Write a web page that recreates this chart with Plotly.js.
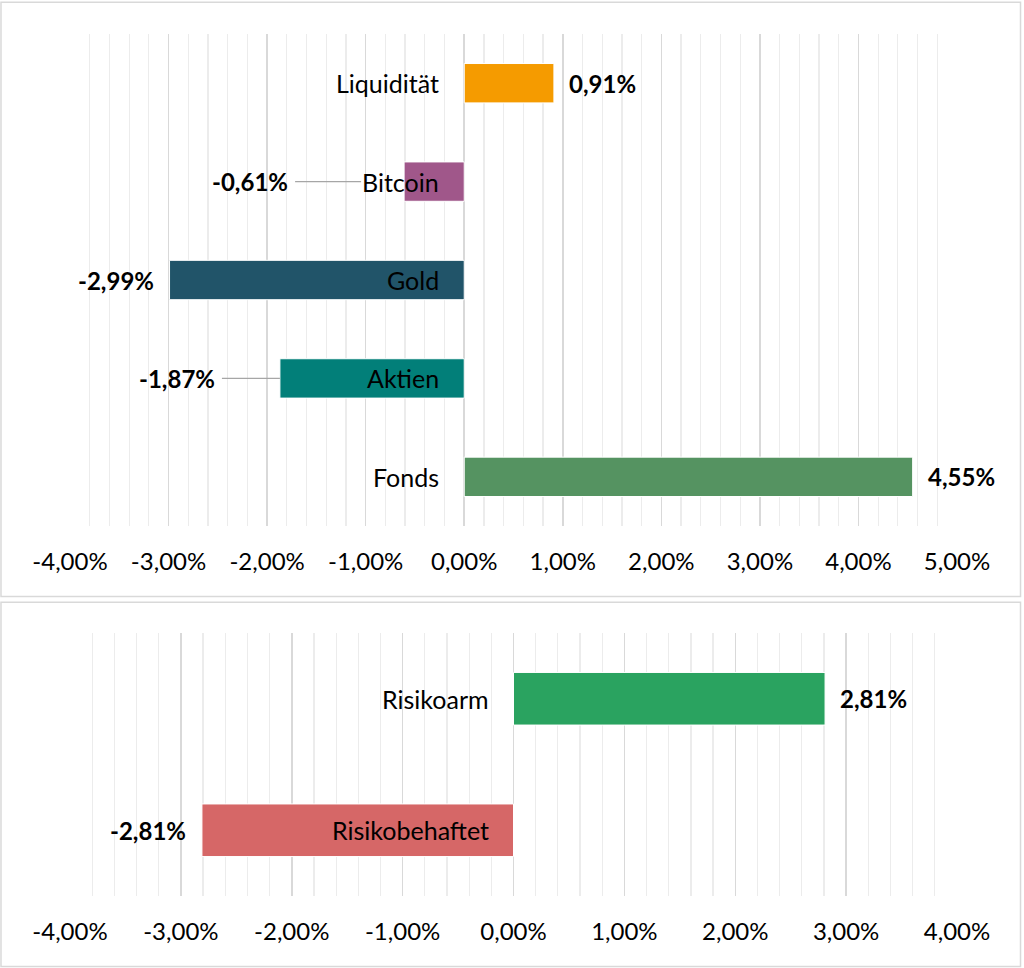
<!DOCTYPE html>
<html>
<head>
<meta charset="utf-8">
<script src="https://cdn.plot.ly/plotly-3.0.1.min.js"></script>
<style>
html,body{margin:0;padding:0;background:#fff;}
#chart{width:1024px;height:968px;}
</style>
</head>
<body>
<div id="chart"></div>
<script>
// ---- data ----
const topCats = ['Liquidität', 'Bitcoin', 'Gold', 'Aktien', 'Fonds'];
const topVals = [0.91, -0.61, -2.99, -1.87, 4.55];
const botCats = ['Risikoarm', 'Risikobehaftet'];
const botVals = [2.81, -2.81];
const topTickVals = [-4, -3, -2, -1, 0, 1, 2, 3, 4, 5];
const topTickText = ['-4,00%', '-3,00%', '-2,00%', '-1,00%', '0,00%', '1,00%', '2,00%', '3,00%', '4,00%', '5,00%'];
const botTickVals = [-4, -3, -2, -1, 0, 1, 2, 3, 4];
const botTickText = ['-4,00%', '-3,00%', '-2,00%', '-1,00%', '0,00%', '1,00%', '2,00%', '3,00%', '4,00%'];

// ---- styles ----
const topColors = ['#F59B00', '#A0578A', '#215469', '#027F79', '#559361'];
const botColors = ['#2AA360', '#D66767'];
const FONT = 'Lato, "Open Sans", sans-serif';
const leader = { 'Bitcoin': { ax: -109, standoff: 43 }, 'Aktien': { ax: -58, standoff: 0 } };

function fmt(v) { return v.toFixed(2).replace('.', ',') + '%'; }

const traces = [
  {
    type: 'bar', orientation: 'h', x: topVals, y: topCats, xaxis: 'x', yaxis: 'y',
    width: 0.4, marker: { color: topColors, line: { color: '#ffffff', width: 1 } },
    hoverinfo: 'skip'
  },
  {
    type: 'bar', orientation: 'h', x: botVals, y: botCats, xaxis: 'x2', yaxis: 'y2',
    width: 0.4, marker: { color: botColors, line: { color: '#ffffff', width: 1 } },
    hoverinfo: 'skip'
  }
];

const annotations = [];
function addLabels(cats, vals, xr, yr) {
  cats.forEach((c, i) => {
    const v = vals[i];
    // category label at the zero line
    annotations.push({
      x: 0, y: c, xref: xr, yref: yr, text: c, showarrow: false,
      xanchor: 'right', xshift: -23,
      font: { family: FONT, size: 25, color: '#000' }
    });
    // value label
    const L = leader[c];
    if (L) {
      annotations.push({
        x: v, y: c, xref: xr, yref: yr, text: '<b>' + fmt(v) + '</b>',
        showarrow: true, ax: L.ax, ay: 0, arrowhead: 0, arrowwidth: 1.2,
        arrowcolor: '#a6a6a6', standoff: L.standoff, xanchor: 'right', borderpad: 6,
        font: { family: FONT, size: 24, color: '#000' }
      });
    } else {
      annotations.push({
        x: v, y: c, xref: xr, yref: yr, text: '<b>' + fmt(v) + '</b>', showarrow: false,
        xanchor: v >= 0 ? 'left' : 'right', xshift: v >= 0 ? 13 : -14,
        font: { family: FONT, size: 24, color: '#000' }
      });
    }
  });
}
addLabels(topCats, topVals, 'x', 'y');
addLabels(botCats, botVals, 'x2', 'y2');

function xaxisDef(range, tv, tt, anchor) {
  return {
    range: range, anchor: anchor, tickvals: tv, ticktext: tt, ticks: '',
    showgrid: true, gridcolor: '#d9d9d9', gridwidth: 1.5, zeroline: false, showline: false,
    minor: { dtick: 0.2, showgrid: true, gridcolor: '#ececec', gridwidth: 1.2, ticks: '' },
    tickfont: { family: FONT, size: 24, color: '#000' }, ticklabelstandoff: 19,
    fixedrange: true
  };
}

const layout = {
  width: 1024, height: 968,
  margin: { l: 70, r: 67, t: 34, b: 72 },
  paper_bgcolor: '#ffffff', plot_bgcolor: 'rgba(0,0,0,0)',
  showlegend: false, barmode: 'relative',
  xaxis: xaxisDef([-4, 5], topTickVals, topTickText, 'y'),
  xaxis2: xaxisDef([-4, 4], botTickVals, botTickText, 'y2'),
  yaxis: { domain: [0.4292, 1], categoryorder: 'array', categoryarray: topCats, autorange: 'reversed',
           showticklabels: false, showgrid: false, zeroline: false, anchor: 'x', fixedrange: true },
  yaxis2: { domain: [0, 0.3051], categoryorder: 'array', categoryarray: botCats, autorange: 'reversed',
            showticklabels: false, showgrid: false, zeroline: false, anchor: 'x2', fixedrange: true },
  annotations: annotations,
  shapes: [
    { type: 'rect', xref: 'paper', yref: 'paper', x0: -0.0778, x1: 1.0716, y0: 0.3474, y1: 1.0368,
      line: { color: '#d9d9d9', width: 1.5 }, layer: 'below' },
    { type: 'rect', xref: 'paper', yref: 'paper', x0: -0.0778, x1: 1.0716, y0: -0.0818, y1: 0.3407,
      line: { color: '#d9d9d9', width: 1.5 }, layer: 'below' }
  ]
};

Plotly.newPlot('chart', traces, layout, { displayModeBar: false, staticPlot: true });
</script>
</body>
</html>
